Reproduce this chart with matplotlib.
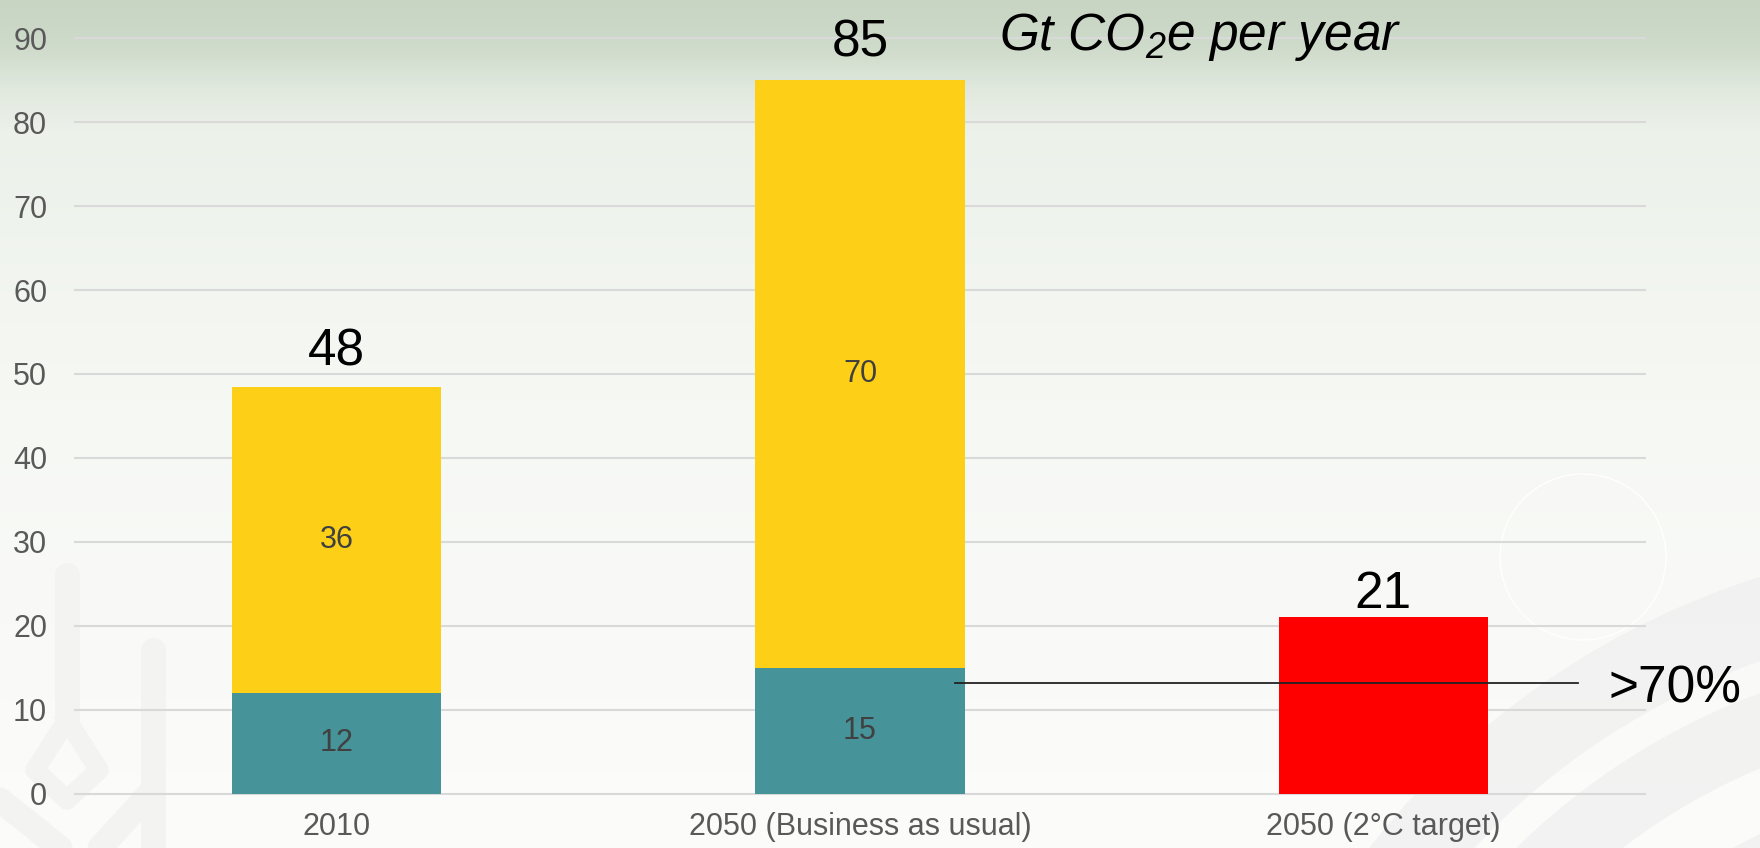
import numpy as np
import matplotlib.pyplot as plt
from matplotlib.patches import Wedge, Circle

plt.rcParams['font.family'] = ['Liberation Sans', 'DejaVu Sans']
plt.rcParams['mathtext.fontset'] = 'custom'
plt.rcParams['mathtext.rm'] = 'Liberation Sans:italic'
plt.rcParams['mathtext.it'] = 'Liberation Sans:italic'

# data (Gt CO2e per year)
categories = ['2010', '2050 (Business as usual)', '2050 (2°C target)']
lower = [12, 15]        # teal part of the stacked bars
upper = [36.4, 70]      # yellow part
target = [21]           # red bar
totals = [48, 85, 21]
share_label = '>70%'
share_level = 13.2

teal = '#46939A'
yellow = '#FDD017'
red = '#FF0000'

fig = plt.figure(figsize=(17.6, 8.48), dpi=100)

# background: green-grey gradient at the top, near white below
bg = fig.add_axes([0, 0, 1, 1], zorder=-10)
ys = np.arange(848)
stops_y = [0, 45, 90, 130, 400, 848]
stops_c = np.array([[200, 213, 195], [206, 218, 202], [225, 233, 222],
                    [236, 241, 234], [246, 248, 244], [252, 252, 251]]) / 255
grad = np.stack([np.interp(ys, stops_y, stops_c[:, k]) for k in range(3)], axis=-1)
grad = np.repeat(grad[:, None, :], 2, axis=1)
bg.imshow(grad, aspect='auto', extent=[0, 1760, 848, 0])
bg.set_xlim(0, 1760)
bg.set_ylim(848, 0)
bg.axis('off')

# faint watermark shapes
for r_out, r_w in [(800, 80), (690, 70), (560, 60)]:
    bg.add_patch(Wedge((2000, 1340), r_out, 180, 290, width=r_w,
                       facecolor='#EFEFEF', edgecolor='none', alpha=0.7))
bg.add_patch(Circle((1583, 557), 83, fill=False, edgecolor='white', lw=1))
wm = '#F3F3F2'
for xs, ys_ in [([67, 67], [575, 720]), ([153, 153], [650, 848]),
                ([0, 60], [800, 848]), ([153, 100], [790, 848])]:
    bg.plot(xs, ys_, color=wm, lw=18, solid_capstyle='round')
bg.plot([67, 35, 67, 99, 67], [720, 770, 800, 770, 720], color=wm, lw=14,
        solid_joinstyle='round')

ax = fig.add_axes([0.04261, 0.06415, 0.89205, 0.89080])
ax.patch.set_alpha(0)
x = np.arange(len(categories))
w = 0.4

b1 = ax.bar(x[:2], lower, width=w, color=teal, zorder=2)
b2 = ax.bar(x[:2], upper, width=w, bottom=lower, color=yellow, zorder=2)
b3 = ax.bar(x[2:], target, width=w, color=red, zorder=2)

ax.bar_label(b1, label_type='center', fmt='{:.0f}', fontsize=22, color='#404040')
ax.bar_label(b2, label_type='center', fmt='{:.0f}', fontsize=22, color='#404040')

# totals above bars
tops = [lower[0] + upper[0], lower[1] + upper[1], target[0]]
offsets = [16, 17, 7]
for i, tot in enumerate(totals):
    ax.annotate(str(tot), (x[i], tops[i]), xytext=(0, offsets[i]),
                textcoords='offset points', ha='center', va='baseline',
                fontsize=37, color='black', annotation_clip=False)

# connector line and share label
ax.plot([1.182, 2.372], [share_level, share_level], color='#222222', lw=1.3,
        zorder=3, clip_on=False)
ax.text(2.43, 10.8, share_label, fontsize=37, color='black', ha='left',
        va='baseline', clip_on=False)

ax.text(1.266, 88.6, r'Gt CO$_2$e per year', fontsize=37, style='italic',
        ha='left', va='baseline')

ax.set_xlim(-0.5, 2.5)
ax.set_ylim(0, 90)
ax.set_yticks(range(0, 91, 10))
ax.set_xticks(x)
ax.set_xticklabels(categories)
ax.yaxis.grid(True, color='#D9D9D9', lw=1.5)
for gl in ax.get_ygridlines():
    gl.set_clip_on(False)
ax.set_axisbelow(True)
for s in ax.spines.values():
    s.set_visible(False)
ax.tick_params(axis='y', length=0, pad=20, labelsize=22, labelcolor='#595959')
ax.tick_params(axis='x', length=0, pad=13, labelsize=22, labelcolor='#595959')

fig.savefig('out.png', dpi=100)
